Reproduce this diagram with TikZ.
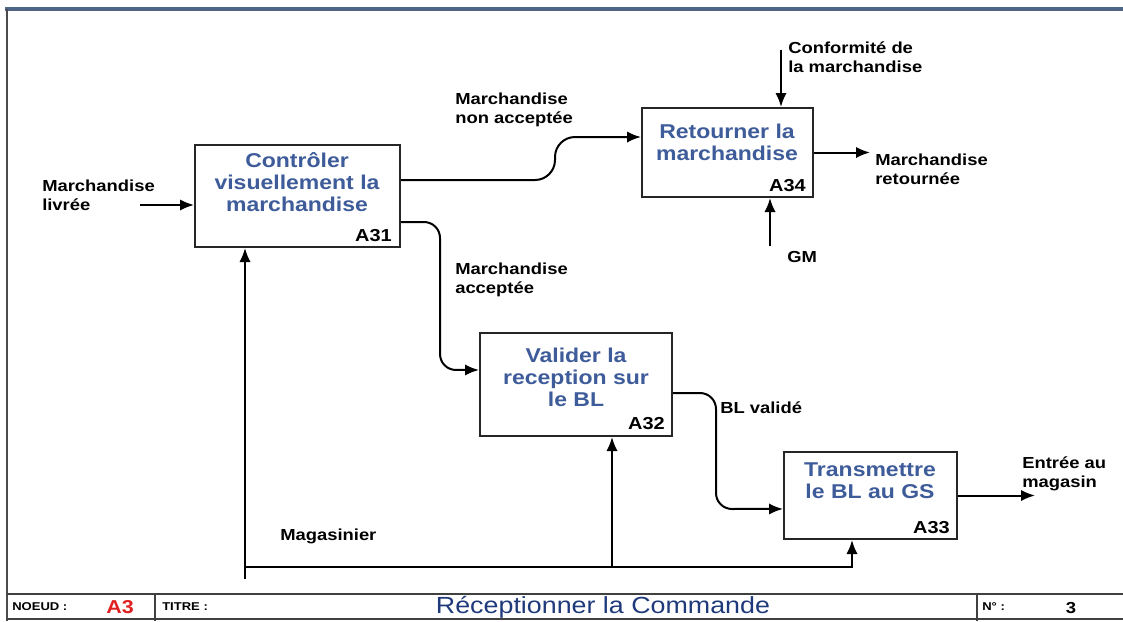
\documentclass[tikz,border=0pt]{standalone}
\usepackage{fontspec}
\setmainfont{Liberation Sans}[FakeStretch=1.15]
\usetikzlibrary{arrows.meta}
\definecolor{boxblue}{HTML}{3E5C9A}
\definecolor{titleblue}{HTML}{1F3A7A}
\definecolor{framecol}{HTML}{4D6587}
\definecolor{redA}{HTML}{E02020}
\tikzset{
  procbox/.style={draw=black!85, line width=1.5pt, fill=white, inner sep=0pt},
  ptitle/.style={text=boxblue, font=\bfseries\fontsize{15}{16.5}\selectfont, align=center, inner sep=0pt},
  pid/.style={font=\bfseries\fontsize{13}{15}\selectfont, anchor=east, inner sep=0pt},
  lbl/.style={font=\bfseries\fontsize{12}{14.5}\selectfont, align=left, anchor=west, inner sep=0pt},
  conn/.style={line width=1.5pt, black},
  arr/.style={conn, -{Latex[length=10.5pt,width=8.5pt]}},
  small/.style={font=\bfseries\fontsize{8.5}{10}\selectfont, anchor=west, inner sep=0pt}
}
\begin{document}
\begin{tikzpicture}[x=0.75pt,y=-0.75pt]
\useasboundingbox (0,0) rectangle (1123,621);
% frame
\draw[framecol, line width=2.4pt] (5,9) -- (1123,9);
\draw[black!70, line width=1.5pt] (7,9) -- (7,621);
% footer
\draw[black!75, line width=1.5pt] (7,594) -- (1123,594);
\draw[black!75, line width=1.2pt] (7,619) -- (1123,619);
\draw[black!75, line width=1.2pt] (155,594) -- (155,621);
\draw[black!75, line width=1.2pt] (977,594) -- (977,621);
\node[small] (noeud) at (12,607) {NOEUD :};
\node[font=\bfseries\fontsize{14}{16}\selectfont, text=redA, inner sep=0pt] (nodeid) at (120,607) {A3};
\node[small] (titre) at (162,607) {TITRE :};
\node[font=\fontsize{17.5}{20}\selectfont, text=titleblue, inner sep=0pt] (title) at (603,607) {Réceptionner la Commande};
\node[small] (num) at (982,607) {N° :};
\node[font=\bfseries\fontsize{12}{14}\selectfont, inner sep=0pt] (numval) at (1071,608) {3};

% boxes
\node[procbox, minimum width=153.75pt, minimum height=76.5pt] (a31) at (297.5,196) {};
\node[procbox, minimum width=128.25pt, minimum height=66.75pt] (a34) at (727.5,152.5) {};
\node[procbox, minimum width=144pt, minimum height=77.25pt] (a32) at (576,384.5) {};
\node[procbox, minimum width=129.75pt, minimum height=65.25pt] (a33) at (870.5,495.5) {};

\node[ptitle] (t31) at (297,182.5) {Contrôler\\visuellement la\\marchandise};
\node[ptitle] (t34) at (727,142.5) {Retourner la\\marchandise};
\node[ptitle] (t32) at (576,377) {Valider la\\reception sur\\le BL};
\node[ptitle] (t33) at (870,481) {Transmettre\\le BL au GS};

\node[pid] (i31) at (392,236) {A31};
\node[pid] (i34) at (806,186) {A34};
\node[pid] (i32) at (665,424) {A32};
\node[pid] (i33) at (950,528) {A33};

% labels
\node[lbl] (lin) at (42,195) {Marchandise\\livrée};
\node[lbl] (lnon) at (455,110) {Marchandise\\non acceptée};
\node[lbl] (lacc) at (455,280) {Marchandise\\acceptée};
\node[lbl] (lbl32) at (720,408) {BL validé};
\node[lbl] (lconf) at (788,57) {Conformité de\\la marchandise};
\node[lbl] (lret) at (875,169) {Marchandise\\retournée};
\node[lbl] (lgm) at (787,257) {GM};
\node[lbl] (lent) at (1022,474) {Entrée au\\magasin};
\node[lbl] (lmag) at (280,536) {Magasinier};

% coordinates
\coordinate (in31) at (140,205);
\coordinate (out34) at (870,152.5);
\coordinate (out33) at (1035,495.5);
\coordinate (conf) at (781,50);
\coordinate (gm) at (770,246);
\coordinate (m0) at (245,579);
\coordinate (mL) at (245,567);
\coordinate (mM) at (612,567);
\coordinate (mR) at (852,567);

% connectors
\draw[arr] (in31) -- (in31 -| a31.west);
\draw[arr, rounded corners=15pt] ([yshift=12pt]a31.east) -- (555,180) -- (555,137) -- ([yshift=11.6pt]a34.west);
\draw[arr, rounded corners=12pt] ([yshift=-19.5pt]a31.east) -- (440,222) -- (440,370) -- ([yshift=10.9pt]a32.west);
\draw[arr, rounded corners=12pt] ([yshift=-6.4pt]a32.east) -- (716,393) -- (716,509) -- ([yshift=-10.1pt]a33.west);
\draw[arr] (a33.east) -- (out33);
\draw[arr] (a34.east) -- (out34);
\draw[arr] (conf) -- (conf |- a34.north);
\draw[arr] (gm) -- (gm |- a34.south);
\draw[arr] (m0) -- (m0 |- a31.south);
\draw[conn] (mL) -- (mM);
\draw[arr] (mM) -- (mM |- a32.south);
\draw[arr] (mM) -- (mR) -- (mR |- a33.south);
\end{tikzpicture}
\end{document}
